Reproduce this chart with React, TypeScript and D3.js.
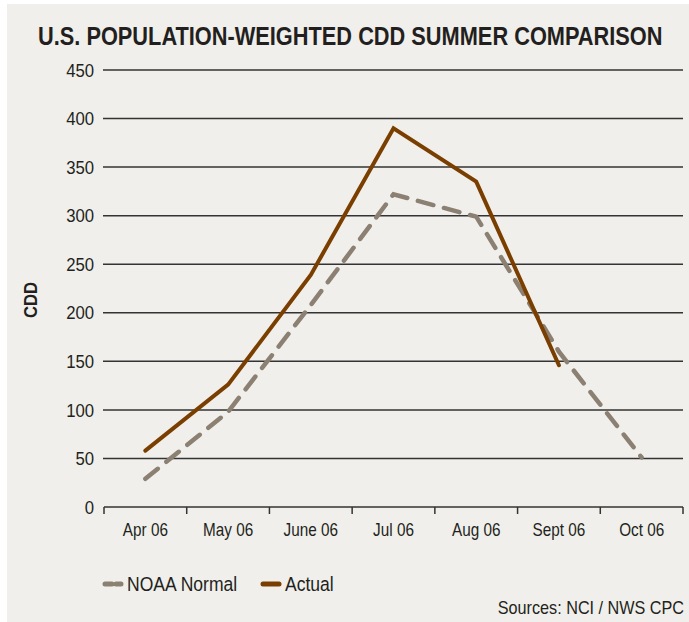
import React, { useEffect, useRef } from 'react';
import * as d3 from 'd3';

const months = ['Apr 06', 'May 06', 'June 06', 'Jul 06', 'Aug 06', 'Sept 06', 'Oct 06'];
const noaaNormal = [29, 98, 208, 322, 299, 160, 51];
const actual = [58, 126, 239, 390, 335, 146];
const yTicks = [0, 50, 100, 150, 200, 250, 300, 350, 400, 450];

const FONT = '"Liberation Sans", Arial, sans-serif';
const INK = '#231f20';

const App = () => {
  const svgRef = useRef<SVGSVGElement>(null);

  useEffect(() => {
    const svg = d3.select(svgRef.current);
    svg.selectAll('*').remove();

    const left = 104, right = 683, top = 70, bottom = 507;

    svg.append('rect')
      .attr('x', 7).attr('y', 4)
      .attr('width', 682).attr('height', 618)
      .attr('fill', '#f0efeb');

    // title, squeezed to the narrow width of the original
    const title = svg.append('text')
      .attr('font-family', FONT)
      .attr('font-weight', 'bold')
      .attr('font-size', 26)
      .attr('fill', INK)
      .text('U.S. POPULATION-WEIGHTED CDD SUMMER COMPARISON');
    const tw = (title.node() as SVGTextElement).getComputedTextLength();
    title.attr('transform', `translate(38,45) scale(${625 / tw},1)`);

    const x = d3.scaleBand().domain(months).range([left, right]);
    const y = d3.scaleLinear().domain([0, 450]).range([bottom, top]);

    // grid lines + y labels
    const grid = svg.append('g');
    grid.selectAll('line')
      .data(yTicks.filter(d => d > 0))
      .enter().append('line')
      .attr('x1', left - 1).attr('x2', right)
      .attr('y1', d => y(d)).attr('y2', d => y(d))
      .attr('stroke', '#333')
      .attr('stroke-width', 1.5);

    grid.selectAll('text')
      .data(yTicks)
      .enter().append('text')
      .attr('transform', d => `translate(94,${y(d)}) scale(0.88,1)`)
      .attr('dy', '0.35em')
      .attr('text-anchor', 'end')
      .attr('font-family', FONT)
      .attr('font-size', 19)
      .attr('fill', INK)
      .text(d => d);

    // x axis
    const xAxis = svg.append('g');
    xAxis.append('line')
      .attr('x1', left).attr('x2', right)
      .attr('y1', bottom).attr('y2', bottom)
      .attr('stroke', '#333').attr('stroke-width', 1.5);

    const edges = months.map(m => x(m) as number).concat([right]);
    xAxis.selectAll('line.tick')
      .data(edges)
      .enter().append('line')
      .attr('class', 'tick')
      .attr('x1', d => d).attr('x2', d => d)
      .attr('y1', bottom).attr('y2', bottom + 7)
      .attr('stroke', '#333').attr('stroke-width', 1.5);

    xAxis.selectAll('text')
      .data(months)
      .enter().append('text')
      .attr('transform', d => `translate(${(x(d) as number) + x.bandwidth() / 2},536) scale(0.85,1)`)
      .attr('text-anchor', 'middle')
      .attr('font-family', FONT)
      .attr('font-size', 18)
      .attr('fill', INK)
      .text(d => d);

    svg.append('text')
      .attr('transform', 'translate(37,300) rotate(-90) scale(0.88,1)')
      .attr('text-anchor', 'middle')
      .attr('font-family', FONT)
      .attr('font-weight', 'bold')
      .attr('font-size', 19)
      .attr('fill', INK)
      .text('CDD');

    const line = d3.line<number>()
      .x((d, i) => (x(months[i]) as number) + x.bandwidth() / 2)
      .y(d => y(d));

    svg.append('path')
      .attr('d', line(noaaNormal))
      .attr('fill', 'none')
      .attr('stroke', '#8b8072')
      .attr('stroke-width', 4.5)
      .attr('stroke-linecap', 'round')
      .attr('stroke-dasharray', '16 11');

    svg.append('path')
      .attr('d', line(actual))
      .attr('fill', 'none')
      .attr('stroke', '#7a3f00')
      .attr('stroke-width', 4)
      .attr('stroke-linecap', 'round')
      .attr('stroke-linejoin', 'miter');

    // legend
    const legend = [
      { name: 'NOAA Normal', color: '#8b8072', dash: '7 4', x: 105 },
      { name: 'Actual', color: '#7a3f00', dash: null, x: 263 },
    ];
    const lg = svg.append('g').selectAll('g')
      .data(legend)
      .enter().append('g')
      .attr('transform', d => `translate(${d.x},584)`);

    lg.append('line')
      .attr('x1', 0).attr('x2', 16)
      .attr('stroke', d => d.color)
      .attr('stroke-width', 5)
      .attr('stroke-linecap', 'round')
      .attr('stroke-dasharray', d => d.dash);

    lg.append('text')
      .attr('transform', 'translate(22,0) scale(0.9,1)')
      .attr('dy', '0.35em')
      .attr('font-family', FONT)
      .attr('font-size', 19.5)
      .attr('fill', INK)
      .text(d => d.name);

    svg.append('text')
      .attr('transform', 'translate(684,614) scale(0.9,1)')
      .attr('text-anchor', 'end')
      .attr('font-family', FONT)
      .attr('font-size', 18)
      .attr('fill', INK)
      .text('Sources: NCI / NWS CPC');
  }, []);

  return (
    <svg ref={svgRef} width={689} height={622}
      style={{ position: 'absolute', left: 0, top: 0, background: '#fff' }} />
  );
};

export default App;
